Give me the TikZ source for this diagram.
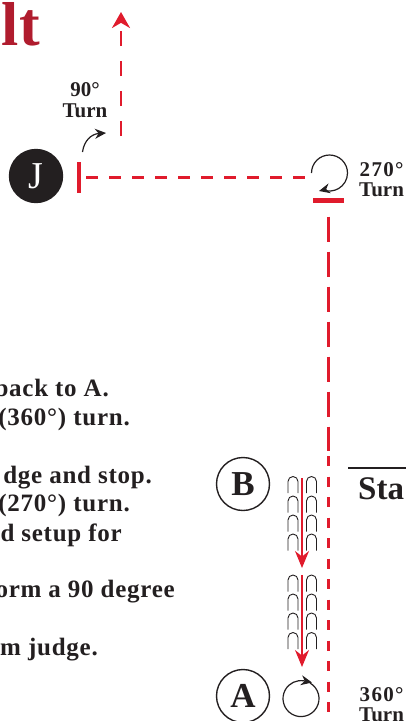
\documentclass[tikz,border=0pt]{standalone}
\usepackage{fontspec}
\setmainfont{Liberation Serif}
\newfontfamily\bodyfont[LetterSpace=3]{Liberation Serif}
\newfontfamily\numfont[LetterSpace=6]{Liberation Serif}
\usetikzlibrary{arrows.meta}
\definecolor{routered}{HTML}{E01B2C}
\definecolor{titlered}{HTML}{B01C2E}
\definecolor{inkblack}{HTML}{231F20}
\begin{document}
\begin{tikzpicture}[x=1pt, y=-1pt, inkblack,
    letter/.style = {draw=inkblack, circle, line width=1.4pt, minimum size=53pt, inner sep=0pt, font=\fontsize{35}{35}\selectfont\bfseries},
    turnlabel/.style = {align=center, inner sep=0pt, font=\fontsize{21}{20.5}\selectfont\bfseries},
    body/.style = {anchor=base east, inner sep=0pt, font=\fontsize{25}{25}\bodyfont\bfseries},
    route/.style = {draw=routered, line width=3pt, dash pattern=on 12pt off 11pt},
    bar/.style = {draw=routered, line width=4.5pt},
    turnarrow/.style = {draw=inkblack, line width=1.2pt, -{Stealth[length=11pt, width=10pt]}},
    stitch/.style = {draw=inkblack, line width=0.9pt},
    pass/.style = {draw=routered, line width=1.4pt, -{Stealth[length=17pt, width=14pt]}}]
    \useasboundingbox (0,0) rectangle (406,721);
    \clip (0,0) rectangle (406,721);

    % title and text
    \node[anchor=base east, inner sep=0pt, text=titlered, font=\fontsize{62}{62}\selectfont\bfseries] (title) at (40,45) {lt};
    \node[body] (t1) at (109,396) {back to A.};
    \node[body] (t2) at (130,425) {(360°) turn.};
    \node[body] (t3) at (152,483) {dge and stop.};
    \node[body] (t4) at (130,511) {(270°) turn.};
    \node[body] (t5) at (122,541) {d setup for};
    \node[body] (t6) at (175,597) {orm a 90 degree};
    \node[body] (t7) at (98,655) {om judge.};
    \node[anchor=base west, inner sep=0pt, font=\fontsize{33}{33}\selectfont\bfseries] (start) at (358,499) {Sta};
    \coordinate (rule1) at (348,468);
    \coordinate (rule2) at (406,468);
    \draw[line width=2.6pt] (rule1) -- (rule2);

    % letters
    \node[letter, fill=inkblack, text=white, font=\fontsize{38}{38}\selectfont] (J) at (36,176) {J};
    \node[letter] (B) at (243,484) {B};
    \node[letter] (A) at (243,696) {A};

    % turn labels
    \node[turnlabel] (l90) at (85,100) {90°\\Turn};
    \node[turnlabel, anchor=west] (l270) at (359,179.5) {{\numfont 270°}\\Turn};
    \node[turnlabel, anchor=west] (l360) at (359,704.5) {{\numfont 360°}\\Turn};

    % route
    \coordinate (J1) at (79,162);
    \coordinate (J2) at (79,193);
    \coordinate (J3) at (86,177.5);
    \coordinate (R1) at (305,177.5);
    \coordinate (R2) at (313,200.5);
    \coordinate (R3) at (344,200.5);
    \coordinate (R4) at (328,216.5);
    \coordinate (R5) at (328,451);
    \coordinate (R6) at (328,456);
    \coordinate (R7) at (328,713);
    \coordinate (U1) at (121,136);
    \coordinate (U2) at (121,12);
    \draw[bar] (J1) -- (J2);
    \draw[bar] (R2) -- (R3);
    \draw[route] (J3) -- (R1);
    \draw[route, line width=2.7pt, dash pattern=on 15pt off 15pt, -{Stealth[length=16pt, width=18pt]}] (U1) -- (U2);
    \draw[route, dash pattern=on 25pt off 10pt] (R4) -- (R5);
    \draw[route, dash pattern=on 10pt off 10.5pt] (R6) -- (R7);

    % turns
    \coordinate (T90a) at (82.5,152);
    \coordinate (T90b) at (106,133);
    \draw[turnarrow] (T90a) .. controls (84,141) and (91,134) .. (T90b);
    \draw[turnarrow] (311.5,173) arc[start angle=180, end angle=470, radius=18] -- (319,191);
    \draw[turnarrow] (310,683) arc[start angle=-60, end angle=280, radius=18] -- (312,682.5);

    % stitches and passes
    \foreach \rowy in {476.5,496,515,534,575,594,613,632.5} {
        \foreach \colx in {293,311.5} {
            \draw[stitch] (\colx-5,\rowy+16.5) -- (\colx-5,\rowy+5) arc[start angle=180, end angle=360, radius=5] -- (\colx+5,\rowy+16.5);
        }
    }
    \coordinate (P1) at (302,478);
    \coordinate (P2) at (302,568);
    \coordinate (P3) at (302,575);
    \coordinate (P4) at (302,667);
    \draw[pass] (P1) -- (P2);
    \draw[pass] (P3) -- (P4);
\end{tikzpicture}
\end{document}
